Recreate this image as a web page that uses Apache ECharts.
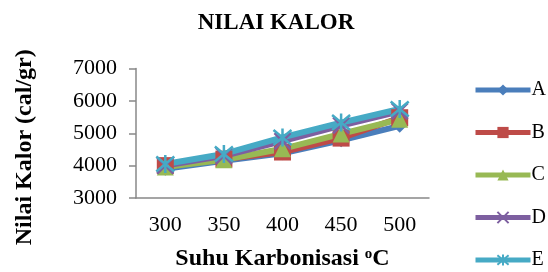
<!DOCTYPE html>
<html>
<head>
<meta charset="utf-8">
<script src="https://cdn.jsdelivr.net/npm/echarts@6/dist/echarts.min.js"></script>
<style>
html,body{margin:0;padding:0;background:#fff;}
#echart{width:548px;height:272px;}
</style>
</head>
<body>
<div id="echart"></div>
<script>
var categories = ['300', '350', '400', '450', '500'];
var seriesNames = ['A', 'B', 'C', 'D', 'E'];
var dataA = [3900, 4150, 4380, 4780, 5230];
var dataB = [4000, 4200, 4420, 4850, 5480];
var dataC = [3960, 4180, 4520, 4980, 5430];
var dataD = [4000, 4300, 4760, 5240, 5680];
var dataE = [4050, 4360, 4870, 5330, 5750];
var allData = [dataA, dataB, dataC, dataD, dataE];
var colors = ['#4a7ebb', '#be4b48', '#98b954', '#7d5fa0', '#46aac5'];
var symbols = [
    'diamond',
    'rect',
    'triangle',
    'path://M0,0L10,10M10,0L0,10',
    'path://M0,0L10,10M10,0L0,10M5,-1L5,11'
];
var symbolSizes = [14, 17, 17, 16, 18];

var font = 'Liberation Serif, Times New Roman, serif';
var myChart = echarts.init(document.getElementById('echart'));

var series = [];
for (let i = 0; i < seriesNames.length; i++) {
    let stroke = i >= 3;
    series.push({
        name: seriesNames[i],
        type: 'line',
        data: allData[i],
        symbol: symbols[i],
        symbolSize: symbolSizes[i],
        showAllSymbol: true,
        lineStyle: { color: colors[i], width: 6 },
        itemStyle: {
            color: colors[i],
            borderColor: colors[i],
            borderWidth: stroke ? 2.5 : 0
        }
    });
}

var option = {
    animation: false,
    color: colors,
    title: {
        text: 'NILAI KALOR',
        left: 271,
        textAlign: 'center',
        top: 7,
        textStyle: { fontFamily: font, fontSize: 23, fontWeight: 'bold', color: '#000' }
    },
    legend: {
        orient: 'vertical',
        left: 468,
        top: 75,
        height: 230,
        itemWidth: 55,
        itemHeight: 14,
        itemGap: 22.5,
        lineStyle: { width: 5 },
        textStyle: { fontFamily: font, fontSize: 20, color: '#000', padding: [0, 0, 0, -4] },
        data: seriesNames
    },
    grid: { left: 136, right: 119, top: 68.5, bottom: 72.5 },
    xAxis: {
        type: 'category',
        data: categories,
        boundaryGap: true,
        name: 'Suhu Karbonisasi {sup|o}C',
        nameLocation: 'center',
        nameGap: 49,
        nameTextStyle: {
            fontFamily: font, fontSize: 24, fontWeight: 'bold', color: '#000',
            rich: { sup: { fontFamily: font, fontSize: 15, fontWeight: 'bold', verticalAlign: 'top', padding: [0, 0, 9, 0] } }
        },
        axisLine: { lineStyle: { color: '#888', width: 1.5 } },
        axisTick: { lineStyle: { color: '#888', width: 1.5 }, length: 7 },
        axisLabel: { fontFamily: font, fontSize: 22, color: '#000', margin: 16 }
    },
    yAxis: {
        type: 'value',
        min: 3000,
        max: 7000,
        interval: 1000,
        name: 'Nilai Kalor (cal/gr)',
        nameLocation: 'center',
        nameGap: 99,
        nameTextStyle: { fontFamily: font, fontSize: 24, fontWeight: 'bold', color: '#000', padding: [0, 28, 0, 0] },
        axisLine: { show: true, lineStyle: { color: '#888', width: 1.5 } },
        axisTick: { show: true, length: 7, lineStyle: { color: '#888', width: 1.5 } },
        splitLine: { show: false },
        axisLabel: {
            fontFamily: font, fontSize: 22, color: '#000', margin: 19,
            formatter: function (v) { return String(v); }
        }
    },
    series: series
};

myChart.setOption(option);
</script>
</body>
</html>
